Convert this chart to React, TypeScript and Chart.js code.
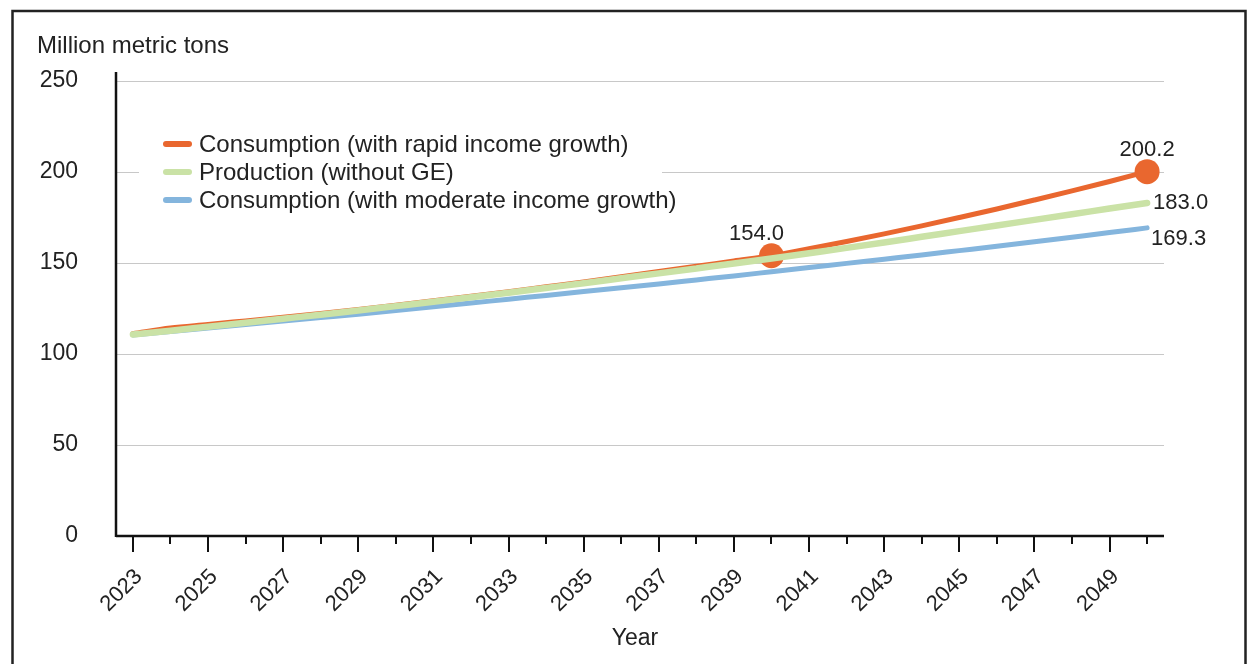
import React, { useEffect, useRef } from 'react';
import { Chart, registerables } from 'chart.js';

Chart.register(...registerables);

// ---------- data ----------
const years = [
  2023, 2024, 2025, 2026, 2027, 2028, 2029, 2030, 2031, 2032,
  2033, 2034, 2035, 2036, 2037, 2038, 2039, 2040, 2041, 2042,
  2043, 2044, 2045, 2046, 2047, 2048, 2049, 2050,
];

const rapidConsumption = [
  111.2, 114.3, 116.2, 118.2, 120.2, 122.3, 124.5, 126.8, 129.2, 131.7,
  134.2, 136.9, 139.6, 142.4, 145.3, 148.2, 151.1, 154.0, 157.8, 161.8,
  166.0, 170.4, 175.0, 179.7, 184.6, 189.6, 194.8, 200.2,
];

const production = [
  110.7, 112.8, 115.0, 117.2, 119.4, 121.6, 123.9, 126.3, 128.7, 131.2,
  133.7, 136.3, 138.9, 141.6, 144.3, 147.0, 149.7, 152.5, 155.4, 158.3,
  161.3, 164.4, 167.5, 170.6, 173.7, 176.8, 179.9, 183.0,
];

const moderateConsumption = [
  110.5, 112.4, 114.3, 116.2, 118.1, 120.0, 121.9, 123.9, 125.9, 128.0,
  130.1, 132.2, 134.3, 136.4, 138.5, 140.7, 142.9, 145.2, 147.5, 149.8,
  152.1, 154.4, 156.8, 159.2, 161.7, 164.2, 166.7, 169.3,
];

const seriesNames = [
  'Consumption (with rapid income growth)',
  'Production (without GE)',
  'Consumption (with moderate income growth)',
];

const seriesColors = ['#E9672F', '#CAE2A6', '#84B5DD'];

const yTickValues = [0, 50, 100, 150, 200, 250];
const labelledYears = [2023, 2025, 2027, 2029, 2031, 2033, 2035, 2037, 2039, 2041, 2043, 2045, 2047, 2049];
const yTitle = 'Million metric tons';
const xTitle = 'Year';
const markedYears = [2040, 2050];

const FONT = '"Liberation Sans", Arial, Helvetica, sans-serif';
const TEXT = '#222222';

const toPoints = (vals: number[]) => vals.map((v, i) => ({ x: years[i], y: v }));

const decorPlugin = {
  id: 'decor',
  beforeDraw(chart: any) {
    const { ctx, width, height } = chart;
    ctx.save();
    ctx.fillStyle = '#ffffff';
    ctx.fillRect(0, 0, width, height);
    ctx.restore();
  },
  afterDraw(chart: any) {
    const { ctx, chartArea } = chart;
    const xs = chart.scales.x;
    const ys = chart.scales.y;
    ctx.save();

    // frame
    ctx.strokeStyle = '#222';
    ctx.lineWidth = 2.5;
    ctx.beginPath();
    ctx.moveTo(12.5, 700);
    ctx.lineTo(12.5, 11);
    ctx.lineTo(1245.5, 11);
    ctx.lineTo(1245.5, 700);
    ctx.stroke();

    // axis lines
    ctx.strokeStyle = '#111';
    ctx.lineWidth = 2.5;
    ctx.beginPath();
    ctx.moveTo(chartArea.left, chartArea.top - 9);
    ctx.lineTo(chartArea.left, chartArea.bottom + 1);
    ctx.moveTo(chartArea.left, chartArea.bottom);
    ctx.lineTo(chartArea.right, chartArea.bottom);
    ctx.stroke();

    // x tick marks (major on labelled years, minor otherwise)
    ctx.lineWidth = 2;
    ctx.beginPath();
    years.forEach((yr) => {
      const px = Math.round(xs.getPixelForValue(yr));
      ctx.moveTo(px, chartArea.bottom);
      ctx.lineTo(px, chartArea.bottom + (labelledYears.includes(yr) ? 16 : 8));
    });
    ctx.stroke();

    // titles
    ctx.fillStyle = TEXT;
    ctx.font = `24px ${FONT}`;
    ctx.textAlign = 'left';
    ctx.textBaseline = 'middle';
    ctx.fillText(yTitle, 37, 46);
    ctx.font = `23px ${FONT}`;
    ctx.textAlign = 'center';
    ctx.fillText(xTitle, 635, 639);

    // legend
    ctx.fillStyle = '#ffffff';
    ctx.fillRect(139, 124, 523, 94);
    ctx.font = `24px ${FONT}`;
    const legendY = [144, 172, 200];
    seriesNames.forEach((name, i) => {
      ctx.strokeStyle = seriesColors[i];
      ctx.lineWidth = 6;
      ctx.lineCap = 'round';
      ctx.beginPath();
      ctx.moveTo(166, legendY[i]);
      ctx.lineTo(189, legendY[i]);
      ctx.stroke();
      ctx.fillStyle = TEXT;
      ctx.textAlign = 'left';
      ctx.fillText(name, 199, legendY[i] + 1);
    });

    // value labels
    ctx.fillStyle = TEXT;
    ctx.font = `22px ${FONT}`;
    ctx.textAlign = 'center';
    markedYears.forEach((yr, k) => {
      const i = years.indexOf(yr);
      const px = xs.getPixelForValue(yr);
      const py = ys.getPixelForValue(rapidConsumption[i]);
      ctx.fillText(rapidConsumption[i].toFixed(1), px + (k === 0 ? -15 : 0), py - 22);
    });
    const last = years.length - 1;
    const lx = xs.getPixelForValue(years[last]);
    ctx.textAlign = 'left';
    ctx.fillText(production[last].toFixed(1), lx + 6, ys.getPixelForValue(production[last]));
    ctx.fillText(
      moderateConsumption[last].toFixed(1),
      lx + 4,
      ys.getPixelForValue(moderateConsumption[last]) + 11,
    );

    ctx.restore();
  },
};

export default function App() {
  const canvasRef = useRef<HTMLCanvasElement | null>(null);

  useEffect(() => {
    const canvas = canvasRef.current;
    if (!canvas) return;
    const pointRadius = years.map((y) => (markedYears.includes(y) ? 12.5 : 0));
    const chart = new Chart(canvas, {
      type: 'line',
      data: {
        datasets: [
          {
            label: seriesNames[0],
            data: toPoints(rapidConsumption),
            borderColor: seriesColors[0],
            backgroundColor: seriesColors[0],
            borderWidth: 5,
            pointRadius,
            pointHoverRadius: pointRadius,
            pointBorderWidth: 0,
            pointBackgroundColor: seriesColors[0],
            cubicInterpolationMode: 'monotone',
            borderCapStyle: 'round',
            order: 1,
          },
          {
            label: seriesNames[1],
            data: toPoints(production),
            borderColor: seriesColors[1],
            backgroundColor: seriesColors[1],
            borderWidth: 6.5,
            pointRadius: 0,
            cubicInterpolationMode: 'monotone',
            borderCapStyle: 'round',
            order: 0,
          },
          {
            label: seriesNames[2],
            data: toPoints(moderateConsumption),
            borderColor: seriesColors[2],
            backgroundColor: seriesColors[2],
            borderWidth: 5,
            pointRadius: 0,
            cubicInterpolationMode: 'monotone',
            borderCapStyle: 'round',
            order: 2,
          },
        ],
      },
      options: {
        animation: false,
        responsive: false,
        devicePixelRatio: 1,
        events: [],
        layout: { padding: { left: 0, top: 81, right: 84, bottom: 0 } },
        plugins: {
          legend: { display: false },
          tooltip: { enabled: false },
        },
        scales: {
          x: {
            type: 'linear',
            min: 2022.55,
            max: 2050.45,
            grid: { display: false, drawTicks: false },
            border: { display: false },
            afterBuildTicks: (s: any) => {
              s.ticks = years.map((v) => ({ value: v }));
            },
            ticks: {
              autoSkip: false,
              minRotation: 45,
              maxRotation: 45,
              padding: 28,
              labelOffset: 6,
              color: TEXT,
              font: { family: FONT, size: 22 },
              callback: (v: any) => (labelledYears.includes(Number(v)) ? String(v) : ''),
            },
            afterFit: (s: any) => {
              s.height = 128;
            },
          },
          y: {
            min: 0,
            max: 250,
            grid: { color: '#c8c8c8', lineWidth: 1, drawTicks: false },
            border: { display: false },
            afterBuildTicks: (s: any) => {
              s.ticks = yTickValues.map((v) => ({ value: v }));
            },
            ticks: {
              padding: 38,
              color: TEXT,
              font: { family: FONT, size: 23 },
            },
            afterFit: (s: any) => {
              s.width = 116;
            },
          },
        },
      },
      plugins: [decorPlugin],
    } as any);
    return () => chart.destroy();
  }, []);

  return (
    <div
      style={{
        position: 'absolute',
        left: 0,
        top: 0,
        width: 1248,
        height: 664,
        background: '#fff',
        overflow: 'hidden',
      }}
    >
      <canvas ref={canvasRef} width={1248} height={664} style={{ display: 'block' }} />
    </div>
  );
}
